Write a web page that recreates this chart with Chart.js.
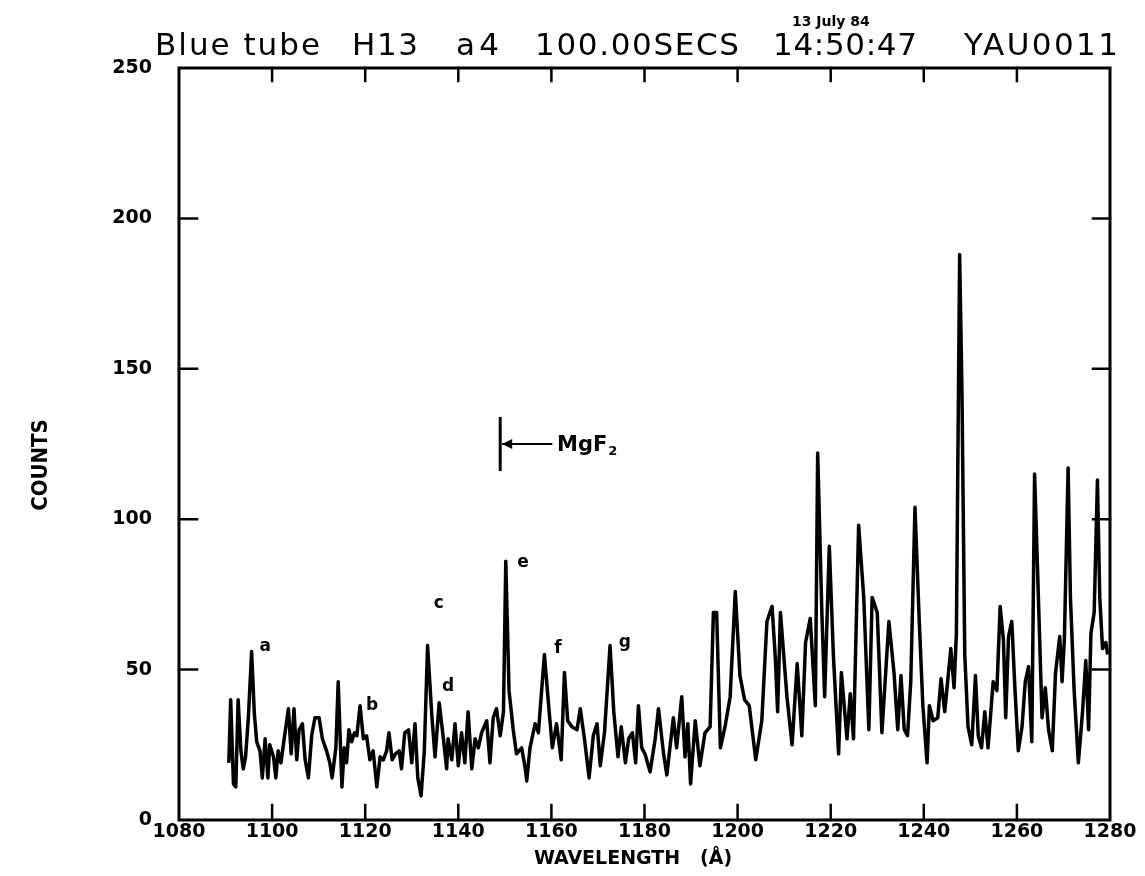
<!DOCTYPE html>
<html><head><meta charset="utf-8">
<script src="https://cdn.jsdelivr.net/npm/chart.js@4.4.0/dist/chart.umd.min.js"></script>
<style>html,body{margin:0;padding:0;background:#fff}canvas{display:block}</style>
</head><body>
<canvas id="c" width="1145" height="876"></canvas>
<script>
const wavelengths = [
1090.7,1091.1,1091.7,1092.2,1092.7,1093.3,1093.8,1094.3,1094.9,1095.6,
1096.2,1096.7,1097.4,1097.9,1098.5,1099.1,1099.5,1100.3,1100.8,1101.3,
1101.9,1102.6,1103.5,1104.1,1104.7,1105.3,1105.8,1106.5,1107.1,1107.8,
1108.5,1109.2,1110.1,1110.8,1111.7,1112.4,1112.9,1113.7,1114.2,1115.0,
1115.5,1116.0,1116.5,1117.1,1117.7,1118.2,1118.9,1119.6,1120.3,1121.0,
1121.7,1122.5,1123.2,1123.9,1124.6,1125.1,1125.8,1126.5,1127.3,1127.8,
1128.5,1129.3,1130.0,1130.7,1131.3,1132.0,1132.7,1133.4,1134.3,1135.0,
1135.9,1136.8,1137.5,
1137.8,1138.6,1139.3,1140.0,1140.7,1141.4,1142.1,1142.9,1143.6,1144.3,1145.0,1146.1,1146.8,1147.5,1148.2,1149.0,1149.7,1150.2,1150.9,1151.8,1152.5,1153.6,1154.3,1154.7,1155.4,1156.5,1157.2,1158.5,1159.3,1160.2,1161.1,1162.1,1162.8,1163.5,1164.4,1165.5,1166.2,1167.1,1168.1,1169.0,1169.8,1170.5,1171.4,1172.6,1173.4,1174.3,1175.0,1175.9,1176.6,1177.4,1178.1,1178.7,1179.4,1180.1,1181.2,1182.3,1183.0,1184.1,1184.8,
1186.2,1186.9,1188.0,1188.7,1189.3,1189.9,1190.9,1191.9,1193.0,1194.1,1194.8,1195.5,1196.3,1197.3,1198.4,1199.5,1200.5,1201.5,1202.5,1203.2,1203.9,1205.2,1206.3,1207.4,1208.1,1208.6,1209.2,1210.6,1211.7,1212.8,1213.8,1214.6,1215.6,1216.7,1217.2,1218.1,1218.7,1219.7,1220.6,1221.7,1222.3,1223.5,1224.2,1224.9,1226.0,1227.1,1228.2,1228.9,1230.0,1231.0,1232.5,1233.6,
1234.4,1235.1,1235.8,1236.5,1237.2,1238.1,1239.0,1239.8,1240.7,1241.2,1242.0,1243.0,1243.7,1244.5,1245.8,1246.5,1247.0,1247.7,1248.2,1248.8,1249.5,1250.3,1251.1,1251.7,1252.4,1253.1,1253.8,1254.9,1255.7,1256.4,1257.1,1257.6,1258.2,1258.9,1259.6,1260.3,1261.1,1261.8,1262.5,1263.2,1263.8,1264.5,1265.4,1266.1,1266.8,1267.6,1268.3,1269.2,1269.7,1270.2,1271.0,1271.5,1272.3,1273.2,1274.1,1274.8,1275.4,1275.9,1276.6,1277.3,1277.8,1278.4,1279.1,1279.5
];
const counts = [
19,40,12,11,40,23,17,21,34,56,
35,26,23,14,27,14,25,21,14,23,
19,27,37,22,37,20,30,32,20,14,
28,34,34,27,23,19,14,24,46,11,
24,19,30,26,29,28,38,27,28,20,
23,11,21,20,23,29,20,22,23,17,
29,30,19,32,14,8,23,58,35,21,
39,27,17,
27,20,32,18,29,19,36,17,27,24,29,33,19,34,37,28,36,86,43,30,22,24,18,13,24,32,29,55,40,24,32,20,49,33,31,30,37,27,14,28,32,18,29,58,36,21,31,19,27,29,19,38,24,22,16,27,37,22,15,
34,24,41,21,32,12,33,18,29,31,69,69,24,31,41,76,48,40,38,29,20,33,66,71,54,36,69,41,25,52,28,59,67,38,122,69,41,91,54,22,49,27,42,27,98,74,30,74,69,29,66,49,
30,48,30,28,46,104,67,38,19,38,33,34,47,36,57,44,62,188,142,55,31,25,48,28,24,36,24,46,43,71,60,34,61,66,43,23,31,46,51,26,115,80,34,44,30,23,49,61,46,60,117,74,43,19,36,53,30,62,69,113,74,57,59,55
];
const xTicks = [1080,1100,1120,1140,1160,1180,1200,1220,1240,1260,1280];
const yTicks = [0,50,100,150,200,250];
const lineLabels = ['a','b','c','d','e','f','g'];
const lineLabelWl = [1098.5,1121.5,1135.8,1137.8,1153.9,1161.4,1175.8];
const lineLabelCounts = [57.5,38,72,44.5,85.5,57,59];
const titleParts = ['Blue tube','H13','a4','100.00SECS','14:50:47','YAU0011'];
const dateNote = '13 July 84';
const filterName = 'MgF';
const filterSub = '2';
const filterWl = 1149;
const filterCount = 125;
const xTitle = 'WAVELENGTH   (Å)';
const yTitle = 'COUNTS';

const FONT = '"DejaVu Sans", "Liberation Sans", sans-serif';

const decor = {
  id: 'decor',
  afterDraw(chart) {
    const ctx = chart.ctx, a = chart.chartArea;
    const xs = chart.scales.x, ys = chart.scales.y;
    ctx.save();
    ctx.strokeStyle = '#000'; ctx.fillStyle = '#000';
    ctx.lineWidth = 3; ctx.lineCap = 'square';
    ctx.strokeRect(a.left, a.top, a.right - a.left, a.bottom - a.top);
    ctx.lineWidth = 2.5;
    ctx.beginPath();
    xTicks.slice(1, -1).forEach(v => {
      const px = xs.getPixelForValue(v);
      ctx.moveTo(px, a.bottom); ctx.lineTo(px, a.bottom - 15);
      ctx.moveTo(px, a.top); ctx.lineTo(px, a.top + 13);
    });
    yTicks.slice(1, -1).forEach(v => {
      const py = ys.getPixelForValue(v);
      ctx.moveTo(a.left, py); ctx.lineTo(a.left + 18, py);
      ctx.moveTo(a.right, py); ctx.lineTo(a.right - 17, py);
    });
    ctx.stroke();
    const spans = [[155,320],[352,418],[456,499],[535,739],[773,917],[964,1118]];
    ctx.font = '31px ' + FONT;
    ctx.textBaseline = 'alphabetic'; ctx.textAlign = 'left';
    titleParts.forEach((t, i) => {
      ctx.letterSpacing = '0px';
      const w = ctx.measureText(t).width;
      const target = spans[i][1] - spans[i][0];
      const ls = (target - w) / Math.max(1, t.length - 1);
      ctx.letterSpacing = ls.toFixed(2) + 'px';
      ctx.fillText(t, spans[i][0], 55);
    });
    ctx.letterSpacing = '0px';
    ctx.font = 'bold 14px ' + FONT;
    ctx.fillText(dateNote, 792, 26);
    ctx.font = 'bold 17px ' + FONT;
    ctx.textAlign = 'center'; ctx.textBaseline = 'middle';
    lineLabels.forEach((t, i) => {
      ctx.fillText(t, xs.getPixelForValue(lineLabelWl[i]), ys.getPixelForValue(lineLabelCounts[i]));
    });
    const fx = xs.getPixelForValue(filterWl), fy = ys.getPixelForValue(filterCount);
    ctx.lineWidth = 3;
    ctx.beginPath();
    ctx.moveTo(fx, ys.getPixelForValue(filterCount + 8.5));
    ctx.lineTo(fx, ys.getPixelForValue(filterCount - 8.5));
    ctx.stroke();
    ctx.lineWidth = 2;
    ctx.beginPath();
    ctx.moveTo(fx + 3, fy); ctx.lineTo(xs.getPixelForValue(filterWl + 11), fy);
    ctx.stroke();
    ctx.beginPath();
    ctx.moveTo(fx + 2, fy); ctx.lineTo(fx + 12, fy - 5); ctx.lineTo(fx + 12, fy + 5); ctx.closePath();
    ctx.fill();
    ctx.textAlign = 'left'; ctx.textBaseline = 'alphabetic';
    ctx.font = 'bold 21px ' + FONT;
    const tx = xs.getPixelForValue(filterWl + 12.2);
    ctx.fillText(filterName, tx, fy + 7);
    const mw = ctx.measureText(filterName).width;
    ctx.font = 'bold 13px ' + FONT;
    ctx.fillText(filterSub, tx + mw + 1, fy + 11);
    ctx.font = 'bold 19px ' + FONT;
    ctx.textAlign = 'center'; ctx.textBaseline = 'middle';
    ctx.fillText(xTitle, 633, 859);
    ctx.save();
    ctx.translate(41, 465);
    ctx.rotate(-Math.PI / 2);
    ctx.font = 'bold 22px "DejaVu Sans Condensed", ' + FONT;
    ctx.fillText(yTitle, 0, 0);
    ctx.restore();
    ctx.restore();
  }
};

new Chart(document.getElementById('c'), {
  type: 'line',
  data: {
    datasets: [{
      data: wavelengths.map((w, i) => ({ x: w, y: counts[i] })),
      borderColor: '#000',
      borderWidth: 3.5,
      pointRadius: 0,
      tension: 0,
      fill: false,
      borderJoinStyle: 'round'
    }]
  },
  options: {
    responsive: false,
    animation: false,
    devicePixelRatio: 1,
    layout: { padding: { left: 0, right: 35, top: 68, bottom: 0 } },
    plugins: { legend: { display: false }, tooltip: { enabled: false }, title: { display: false } },
    scales: {
      x: {
        type: 'linear', min: 1080, max: 1280,
        afterBuildTicks: s => { s.ticks = xTicks.map(v => ({ value: v })); },
        grid: { display: false, drawTicks: false },
        border: { display: false },
        ticks: { color: '#000', font: { family: FONT, weight: 'bold', size: 19 }, padding: 1, maxRotation: 0, autoSkip: false, callback: v => String(v) },
        afterFit: s => { s.height = 56; }
      },
      y: {
        type: 'linear', min: 0, max: 250,
        afterBuildTicks: s => { s.ticks = yTicks.map(v => ({ value: v })); },
        grid: { display: false, drawTicks: false },
        border: { display: false },
        ticks: { color: '#000', font: { family: FONT, weight: 'bold', size: 19 }, padding: 27, autoSkip: false, callback: v => String(v) },
        afterFit: s => { s.width = 179; }
      }
    }
  },
  plugins: [decor]
});
</script>
</body></html>
